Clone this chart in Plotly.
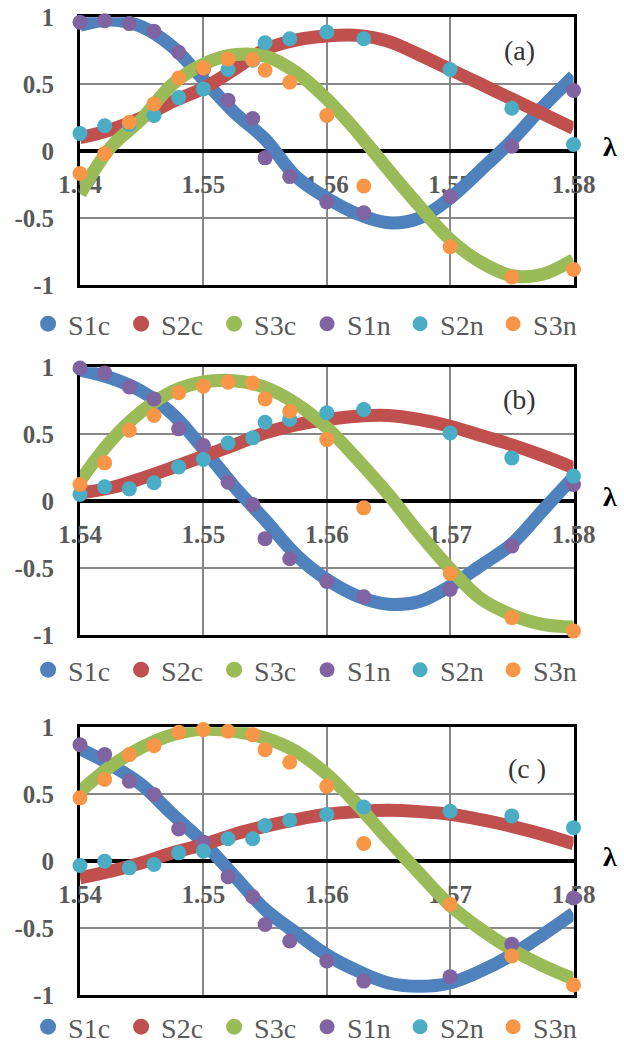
import plotly.graph_objects as go

# ---------------- data ----------------
# wavelength grid of the computed curves (c) and of the measured points (n)
x_curve = [1.540, 1.5425, 1.545, 1.5475, 1.550, 1.5525, 1.555, 1.5575, 1.560,
           1.5625, 1.565, 1.5675, 1.570, 1.5725, 1.575, 1.5775, 1.580]
x_meas = [1.540, 1.542, 1.544, 1.546, 1.548, 1.550, 1.552, 1.554, 1.555,
          1.557, 1.560, 1.563, 1.570, 1.575, 1.580]

# panel (a)
S1c_a = [0.94, 0.98, 0.93, 0.78, 0.535, 0.29, 0.09, -0.19, -0.35, -0.47, -0.535, -0.50, -0.35, -0.14, 0.08, 0.33, 0.56]
S2c_a = [0.10, 0.16, 0.25, 0.37, 0.47, 0.61, 0.76, 0.83, 0.86, 0.865, 0.82, 0.72, 0.61, 0.50, 0.39, 0.28, 0.17]
S3c_a = [-0.32, 0.03, 0.24, 0.50, 0.65, 0.72, 0.71, 0.59, 0.39, 0.14, -0.14, -0.41, -0.66, -0.83, -0.93, -0.92, -0.81]
S1n_a = [0.963, 0.975, 0.953, 0.896, 0.739, 0.61, 0.381, 0.244, -0.05, -0.19, -0.38, -0.46, -0.34, 0.037, 0.453]
S2n_a = [0.132, 0.19, 0.20, 0.266, 0.40, 0.465, 0.61, 0.68, 0.81, 0.84, 0.89, 0.84, 0.61, 0.32, 0.05]
S3n_a = [-0.167, -0.017, 0.216, 0.353, 0.547, 0.622, 0.689, 0.684, 0.604, 0.515, 0.266, -0.26, -0.714, -0.94, -0.884]

# panel (b)
S1c_b = [0.98, 0.92, 0.82, 0.65, 0.39, 0.11, -0.14, -0.40, -0.585, -0.71, -0.77, -0.75, -0.635, -0.48, -0.32, -0.07, 0.18]
S2c_b = [0.06, 0.10, 0.17, 0.25, 0.335, 0.42, 0.51, 0.57, 0.61, 0.635, 0.64, 0.61, 0.56, 0.49, 0.42, 0.34, 0.25]
S3c_b = [0.15, 0.45, 0.67, 0.82, 0.89, 0.90, 0.85, 0.73, 0.55, 0.31, 0.05, -0.24, -0.505, -0.73, -0.85, -0.92, -0.94]
S1n_b = [0.995, 0.958, 0.853, 0.764, 0.54, 0.415, 0.142, -0.025, -0.28, -0.43, -0.60, -0.714, -0.66, -0.336, 0.124]
S2n_b = [0.05, 0.107, 0.092, 0.137, 0.256, 0.311, 0.435, 0.473, 0.59, 0.61, 0.66, 0.684, 0.51, 0.323, 0.187]
S3n_b = [0.124, 0.286, 0.53, 0.64, 0.81, 0.858, 0.888, 0.883, 0.764, 0.672, 0.46, -0.05, -0.54, -0.87, -0.97]

# panel (c)
S1c_c = [0.84, 0.72, 0.57, 0.35, 0.14, -0.11, -0.36, -0.535, -0.70, -0.82, -0.91, -0.935, -0.91, -0.82, -0.70, -0.55, -0.39]
S2c_c = [-0.124, -0.075, -0.012, 0.062, 0.124, 0.20, 0.26, 0.31, 0.35, 0.37, 0.38, 0.37, 0.35, 0.31, 0.26, 0.20, 0.13]
S3c_c = [0.52, 0.71, 0.85, 0.945, 0.985, 0.97, 0.92, 0.82, 0.65, 0.42, 0.16, -0.09, -0.33, -0.51, -0.66, -0.78, -0.88]
S1n_c = [0.87, 0.796, 0.597, 0.498, 0.241, 0.142, -0.117, -0.266, -0.473, -0.597, -0.746, -0.896, -0.863, -0.62, -0.275]
S2n_c = [-0.032, 0.0, -0.05, -0.025, 0.062, 0.075, 0.167, 0.167, 0.266, 0.306, 0.348, 0.405, 0.373, 0.338, 0.25]
S3n_c = [0.473, 0.61, 0.796, 0.863, 0.963, 0.983, 0.97, 0.945, 0.833, 0.739, 0.56, 0.132, -0.323, -0.708, -0.925]

x_ticks = [1.54, 1.55, 1.56, 1.57, 1.58]
x_ticktext = ["1.54", "1.55", "1.56", "1.57", "1.58"]
y_ticks = [-1, -0.5, 0, 0.5, 1]
y_ticktext = ["-1", "-0.5", "0", "0.5", "1"]
panel_labels = ["(a)", "(b)", "(c )"]
series_names = ["S1c", "S2c", "S3c", "S1n", "S2n", "S3n"]
colors = ["#4F81BD", "#C0504D", "#9BBB59", "#8064A2", "#4BACC6", "#F79646"]

panels = [
    (S1c_a, S2c_a, S3c_a, S1n_a, S2n_a, S3n_a),
    (S1c_b, S2c_b, S3c_b, S1n_b, S2n_b, S3n_b),
    (S1c_c, S2c_c, S3c_c, S1n_c, S2n_c, S3n_c),
]

# ---------------- layout geometry ----------------
W, H = 624, 1045
MB = 30                      # bottom margin so the last legend never pushes margins
HP = H - MB                  # paper height in px (paper top = figure top)
FONT = "Liberation Serif"
TICKCOL = "#595959"


def py(px_from_top):
    return (HP - px_from_top) / HP


x_dom = [80 / W, 573.5 / W]
frames = [(17.3, 285.0), (367.3, 635.0), (727.3, 995.0)]
legend_y_px = [324, 670, 1027]
label_pos_px = [(519, 50), (519, 400), (527, 768)]

fig = go.Figure()
layout = dict(
    width=W, height=H, margin=dict(l=0, r=0, t=0, b=MB, autoexpand=False),
    paper_bgcolor="white", plot_bgcolor="white",
    showlegend=True, annotations=[],
)

for p, data in enumerate(panels):
    xa = "x" if p == 0 else f"x{p + 1}"
    ya = "y" if p == 0 else f"y{p + 1}"
    xl = f"x{p + 4}"
    lg = "legend" if p == 0 else f"legend{p + 1}"
    top, bot = frames[p]
    y_dom = [py(bot), py(top)]
    zero_px = (top + bot) / 2

    # curves
    for k in range(3):
        fig.add_trace(go.Scatter(
            x=x_curve, y=data[k], mode="lines", name=series_names[k],
            line=dict(color=colors[k], width=13, shape="spline", smoothing=1.0),
            xaxis=xa, yaxis=ya, showlegend=False, cliponaxis=False,
            hoverinfo="skip"))
    # legend entries for the curves (shown as dots like the reference)
    for k in range(3):
        fig.add_trace(go.Scatter(
            x=[None], y=[None], mode="markers", name=series_names[k],
            marker=dict(color=colors[k], size=16), xaxis=xa, yaxis=ya,
            legend=lg, legendrank=k + 1, showlegend=True))
    # measured points
    for k in range(3, 6):
        fig.add_trace(go.Scatter(
            x=x_meas, y=data[k], mode="markers", name=series_names[k],
            marker=dict(color=colors[k], size=15, line=dict(width=0)),
            xaxis=xa, yaxis=ya, legend=lg, legendrank=k + 1,
            showlegend=True, cliponaxis=False))
    # invisible carrier so the tick-label axis on the zero line is drawn
    fig.add_trace(go.Scatter(
        x=x_ticks, y=[0] * len(x_ticks), mode="markers",
        marker=dict(size=1, opacity=0), xaxis=xl, yaxis=ya,
        showlegend=False, hoverinfo="skip"))

    xkey = "xaxis" if p == 0 else f"xaxis{p + 1}"
    ykey = "yaxis" if p == 0 else f"yaxis{p + 1}"
    layout[xkey] = dict(
        domain=x_dom, anchor=ya, range=[1.54, 1.58],
        tickvals=x_ticks, showticklabels=False, ticks="",
        showgrid=True, gridcolor="#888888", gridwidth=1.5,
        zeroline=False, showline=True, mirror=True, linecolor="black",
        linewidth=3, layer="below traces")
    layout[ykey] = dict(
        domain=y_dom, anchor=xa, range=[-1, 1],
        tickvals=y_ticks, ticktext=y_ticktext,
        tickfont=dict(family=FONT, size=25, color=TICKCOL, weight="bold"),
        ticks="outside", ticklen=18, tickcolor="rgba(0,0,0,0)",
        showgrid=True, gridcolor="#888888", gridwidth=1.5,
        zeroline=True, zerolinecolor="black", zerolinewidth=3.5,
        showline=True, mirror=True, linecolor="black", linewidth=3,
        layer="below traces")
    # x tick labels sitting just under the zero line
    layout[f"xaxis{p + 4}"] = dict(
        domain=x_dom, overlaying=xa, anchor="free", position=py(zero_px),
        range=[1.54, 1.58], tickvals=x_ticks, ticktext=x_ticktext,
        tickfont=dict(family=FONT, size=25, color=TICKCOL, weight="bold"),
        ticks="outside", ticklen=11, tickcolor="rgba(0,0,0,0)",
        showgrid=False, zeroline=False, showline=False, side="bottom",
        layer="below traces")

    layout[lg] = dict(
        orientation="h", x=0.045, xanchor="left",
        y=py(legend_y_px[p]), yanchor="middle",
        font=dict(family=FONT, size=28, color=TICKCOL),
        bgcolor="rgba(0,0,0,0)", itemsizing="trace",
        entrywidth=48, traceorder="normal", tracegroupgap=0)

    # lambda symbol at the end of the zero line
    layout["annotations"].append(dict(
        text="λ", xref="paper", yref="paper", x=610 / W, y=py(zero_px - 5),
        showarrow=False, xanchor="center", yanchor="middle",
        font=dict(family=FONT, size=28, color="black", weight="bold")))
    # panel label
    lx, ly = label_pos_px[p]
    layout["annotations"].append(dict(
        text=panel_labels[p], xref="paper", yref="paper", x=lx / W, y=py(ly),
        showarrow=False, xanchor="center", yanchor="middle",
        font=dict(family=FONT, size=28, color="#333333")))

fig.update_layout(**layout)
fig.write_html(
    "out.html",
    config={"displayModeBar": False},
    post_script="document.body.style.margin='0';document.body.style.padding='0';",
)
